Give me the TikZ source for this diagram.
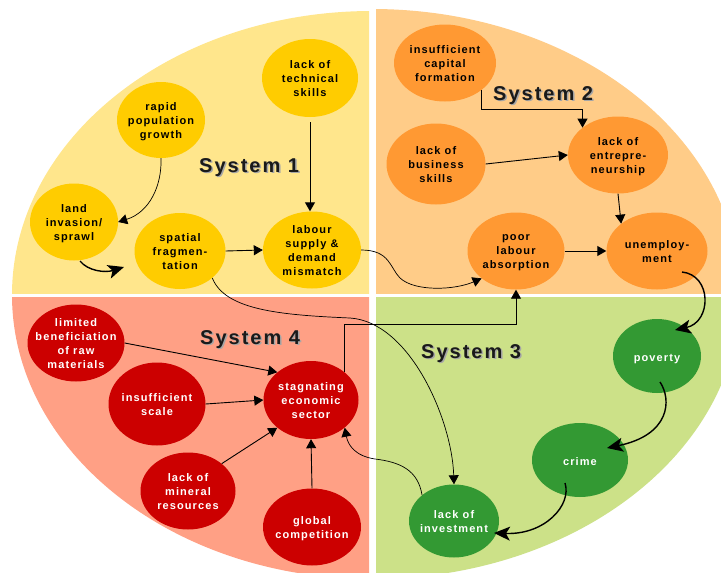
\documentclass[tikz,border=0pt]{standalone}
\usepackage{fontspec}
\setmainfont{Liberation Sans}
\newfontfamily\lsfont{Liberation Sans}[LetterSpace=10]
\usetikzlibrary{shapes.geometric,arrows.meta}
\definecolor{ybg}{HTML}{FFE68C}
\definecolor{obg}{HTML}{FFCC88}
\definecolor{rbg}{HTML}{FFA085}
\definecolor{gbg}{HTML}{CCE188}
\definecolor{ynd}{HTML}{FFCC00}
\definecolor{ond}{HTML}{FF9933}
\definecolor{rnd}{HTML}{CC0000}
\definecolor{gnd}{HTML}{339933}
\definecolor{systext}{HTML}{1A1A1A}
\tikzset{
  bubble/.style={ellipse, inner sep=0pt, draw=none},
  ybub/.style={bubble, fill=ynd},
  obub/.style={bubble, fill=ond},
  rbub/.style={bubble, fill=rnd},
  gbub/.style={bubble, fill=gnd},
  btxt/.style={inner sep=0pt, align=center, font=\lsfont\bfseries\fontsize{11}{14}\selectfont,
     execute at begin node=\strut, execute at end node=\strut},
  darktxt/.style={btxt, text=black},
  lighttxt/.style={btxt, text=white},
  systitle/.style={inner sep=0pt, anchor=base west, font=\lsfont\bfseries\fontsize{20}{24}\selectfont, text=systext},
  sysshadow/.style={systitle, text=black!35},
  arr/.style={-{Triangle[length=9pt,width=10pt]}, line width=0.9pt},
  thinarr/.style={-{Triangle[length=9pt,width=10pt]}, line width=0.7pt},
  bigarr/.style={-{Stealth[length=16pt,width=14pt,inset=4pt]}, line width=1.4pt},
}
\newcommand{\bub}[6]{%
  \node[#1, minimum width=#4pt, minimum height=#5pt] (#2) at (#3) {};
  \node[#6] (#2t) at ([yshift=-3pt]#2.center)}
\begin{document}
\begin{tikzpicture}[x=1pt,y=-1pt]
\useasboundingbox (0,0) rectangle (721,573);
\fill[white] (0,0) rectangle (721,573);
% quadrants
\begin{scope}
  \clip (0,0) rectangle (369,293);
  \fill[ybg] (372,295) ellipse [x radius=360pt, y radius=284pt];
\end{scope}
\begin{scope}
  \clip (376,0) rectangle (721,293);
  \fill[obg] (372,295) ellipse [x radius=368pt, y radius=286pt];
\end{scope}
\begin{scope}
  \clip (0,297) rectangle (369,573);
  \fill[rbg] (372,295) ellipse [x radius=360pt, y radius=284pt];
\end{scope}
\begin{scope}
  \clip (376,297) rectangle (721,573);
  \fill[gbg] (372,295) ellipse [x radius=368pt, y radius=284pt];
\end{scope}
% system titles
\node[sysshadow] (s1s) at (200.5,173.5) {System 1};
\node[systitle] (s1) at (199,172) {System 1};
\node[sysshadow] (s2s) at (494.5,101.5) {System 2};
\node[systitle] (s2) at (493,100) {System 2};
\node[sysshadow] (s3s) at (422.5,359.5) {System 3};
\node[systitle] (s3) at (421,358) {System 3};
\node[sysshadow] (s4s) at (201.5,345.5) {System 4};
\node[systitle] (s4) at (200,344) {System 4};
% yellow
\bub{ybub}{rapid}{161,120}{88}{76}{darktxt} {rapid\\population\\growth};
\bub{ybub}{tech}{310,78}{96}{78}{darktxt} {lack of\\technical\\skills};
\bub{ybub}{land}{74,222}{88}{77}{darktxt} {land\\invasion/\\sprawl};
\bub{ybub}{spatial}{180,251}{91}{76}{darktxt} {spatial\\fragmen-\\tation};
\bub{ybub}{labour}{312,250}{98}{77}{darktxt} {labour\\supply \&\\demand\\mismatch};
% orange
\bub{obub}{capital}{445,63}{102}{77}{darktxt} {insufficient\\capital\\formation};
\bub{obub}{biz}{436,164}{99}{81}{darktxt} {lack of\\business\\skills};
\bub{obub}{entre}{618,155}{100}{77}{darktxt} {lack of\\entrepre-\\neurship};
\bub{obub}{poor}{516,251}{97}{77}{darktxt} {poor\\labour\\absorption};
\bub{obub}{unemp}{657,251}{101}{77}{darktxt} {unemploy-\\ment};
% red
\bub{rbub}{limited}{76,343}{97}{77}{lighttxt} {limited\\beneficiation\\of raw\\materials};
\bub{rbub}{scale}{157,404}{97}{83}{lighttxt} {insufficient\\scale};
\bub{rbub}{stag}{311,400}{95}{78}{lighttxt} {stagnating\\economic\\sector};
\bub{rbub}{mineral}{188,491}{95}{77}{lighttxt} {lack of\\mineral\\resources};
\bub{rbub}{global}{312,527}{98}{77}{lighttxt} {global\\competition};
% green
\bub{gbub}{poverty}{657,356}{88}{74}{lighttxt} {poverty};
\bub{gbub}{crime}{580,460}{96}{74}{lighttxt} {crime};
\bub{gbub}{invest}{454,521}{90}{73}{lighttxt} {lack of\\investment};
% connectors system 1
\coordinate (lsend) at (124,267);
\draw[thinarr] (rapid.south) .. controls (162,185) and (150,212) .. (land.east);
\draw[bigarr] ([shift={(6,39)}]land.center) .. controls (88,271) and (105,273) .. (lsend);
\draw[arr] ([yshift=-5pt]tech.south) -- (tech.south |- labour.north);
\draw[arr] (spatial.east) -- (labour.west);
\draw[thinarr] (labour.east) .. controls (390,250) and (390,268) .. (400,278)
   .. controls (415,292) and (455,290) .. (poor.south west);
\draw[thinarr] (spatial.south east) .. controls (225,310) and (280,315) .. (350,318)
   .. controls (410,322) and (452,420) .. (invest.north);
% system 2
\draw[arr] (capital.south east) -- ++(0,19) -| (entre.north west);
\draw[arr] (biz.east) -- (entre.west);
\draw[arr] (entre.south) -- (unemp.north west);
\draw[arr] (poor.east) -- (unemp.west);
% system 3
\draw[bigarr] ([shift={(25,21)}]unemp.center) .. controls (712,275) and (712,322) .. ([shift={(18,-26)}]poverty.center);
\draw[bigarr] ([shift={(3,26)}]poverty.center) .. controls (672,400) and (670,435) .. ([shift={(27,-12)}]crime.center);
\draw[bigarr] ([shift={(-15,23)}]crime.center) .. controls (572,505) and (545,535) .. ([shift={(40,12)}]invest.center);
\draw[thinarr] (invest.north west) .. controls (418,470) and (400,462) .. (375,459)
   .. controls (355,456) and (348,445) .. (stag.south east);
% system 4
\draw[arr] (stag.north east) -- ++(0,-48) -| (poor.south);
\draw[arr] (limited.east) -- (stag.north west);
\draw[arr] (scale.east) -- (stag.west);
\draw[arr] (mineral.north east) -- (stag.south west);
\draw[arr] (global.north) -- (stag.south);
\end{tikzpicture}
\end{document}
